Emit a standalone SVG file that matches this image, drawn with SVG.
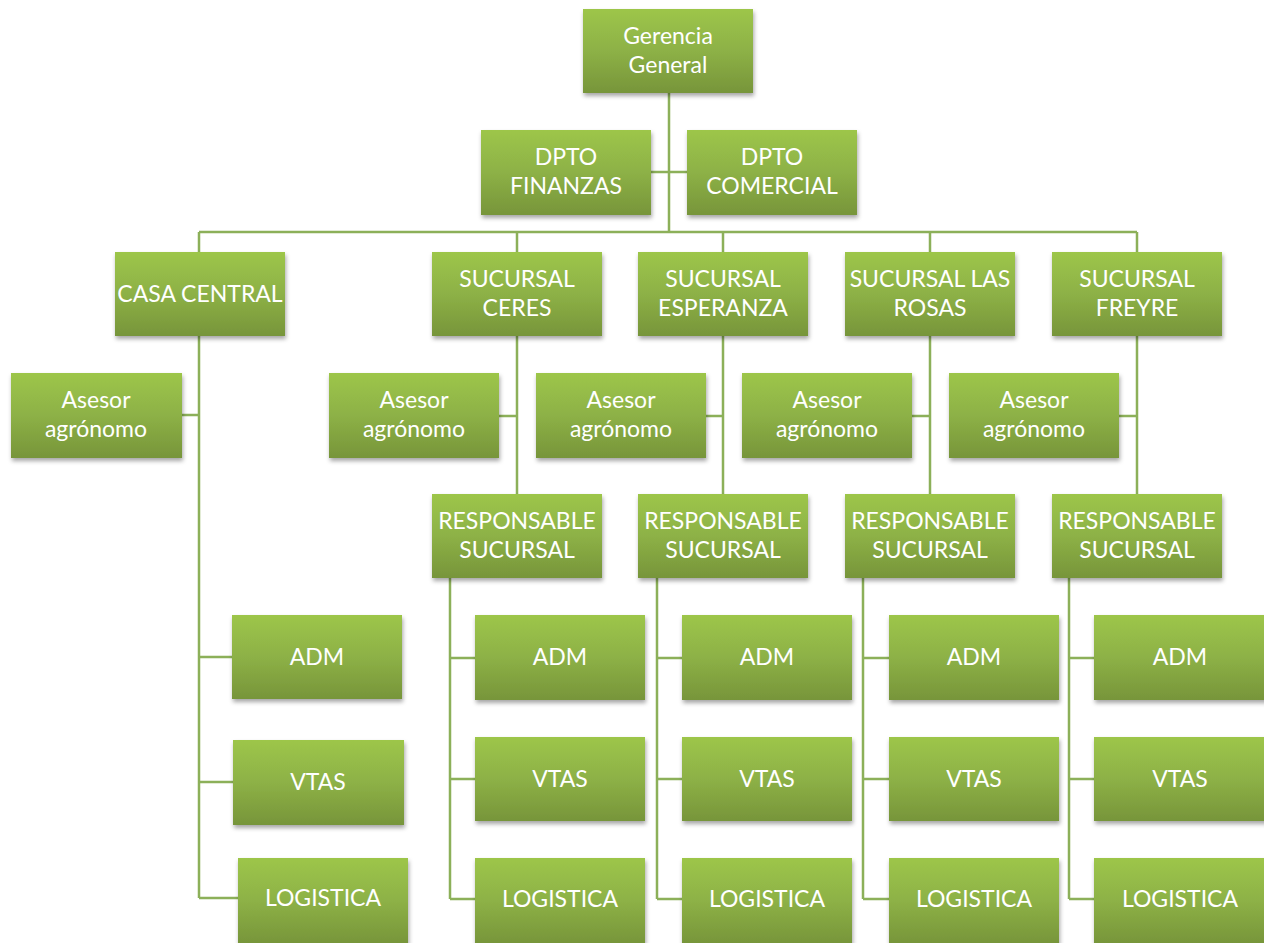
<svg xmlns="http://www.w3.org/2000/svg" width="1264" height="943" viewBox="0 0 1264 943">
<defs>
<linearGradient id="g" x1="0" y1="0" x2="0" y2="1">
<stop offset="0" stop-color="#9dc64a"/>
<stop offset="0.5" stop-color="#8db146"/>
<stop offset="1" stop-color="#77953a"/>
</linearGradient>
<filter id="sh" x="-10%" y="-10%" width="125%" height="135%">
<feDropShadow dx="1" dy="3" stdDeviation="2" flood-color="#000" flood-opacity="0.35"/>
</filter>
</defs>
<style>
.b{fill:url(#g);filter:url(#sh)}
.t{fill:#fff;font-family:Lato,"Open Sans","Liberation Sans",sans-serif;font-size:23px;text-anchor:middle}
.c{stroke:#8cb059;stroke-width:2.5;fill:none}
</style>
<rect width="1264" height="943" fill="#fff"/>
<g id="connectors" class="c">
<path d="M669 93V232M651 172H687M199 232H1137M199 232V252M517 232V252M723 232V252M930 232V252M1137 232V252"/>
<path d="M199 336V898M182 415H199M199 657H232M199 782H233M199 898H238"/>
<path d="M517 336V494M499 416H517M723 336V494M706 416H723M930 336V494M912 416H930M1137 336V494M1119 416H1137"/>
<path d="M450 578V899M450 658H475M450 779H475M450 899H475"/>
<path d="M657 578V899M657 658H682M657 779H682M657 899H682"/>
<path d="M863 578V899M863 658H889M863 779H889M863 899H889"/>
<path d="M1069 578V899M1069 658H1094M1069 779H1094M1069 899H1094"/>
</g>
<g id="gerencia"><rect class="b" x="583" y="9" width="170" height="84"/><text class="t" x="668" y="44">Gerencia</text><text class="t" x="668" y="73">General</text></g>
<g id="finanzas"><rect class="b" x="481" y="130" width="170" height="85"/><text class="t" x="566" y="165">DPTO</text><text class="t" x="566" y="194">FINANZAS</text></g>
<g id="comercial"><rect class="b" x="687" y="130" width="170" height="85"/><text class="t" x="772" y="165">DPTO</text><text class="t" x="772" y="194">COMERCIAL</text></g>
<g id="casa-central"><rect class="b" x="115" y="252" width="170" height="84"/><text class="t" x="200" y="302">CASA CENTRAL</text></g>
<g id="suc-ceres"><rect class="b" x="432" y="252" width="170" height="84"/><text class="t" x="517" y="287">SUCURSAL</text><text class="t" x="517" y="316">CERES</text></g>
<g id="suc-esperanza"><rect class="b" x="638" y="252" width="170" height="84"/><text class="t" x="723" y="287">SUCURSAL</text><text class="t" x="723" y="316">ESPERANZA</text></g>
<g id="suc-rosas"><rect class="b" x="845" y="252" width="170" height="84"/><text class="t" x="930" y="287">SUCURSAL LAS</text><text class="t" x="930" y="316">ROSAS</text></g>
<g id="suc-freyre"><rect class="b" x="1052" y="252" width="170" height="84"/><text class="t" x="1137" y="287">SUCURSAL</text><text class="t" x="1137" y="316">FREYRE</text></g>
<g id="asesor-cc"><rect class="b" x="11" y="373" width="171" height="85"/><text class="t" x="96" y="408">Asesor</text><text class="t" x="96" y="437">agrónomo</text></g>
<g id="asesor-ceres"><rect class="b" x="329" y="373" width="170" height="85"/><text class="t" x="414" y="408">Asesor</text><text class="t" x="414" y="437">agrónomo</text></g>
<g id="asesor-esperanza"><rect class="b" x="536" y="373" width="170" height="85"/><text class="t" x="621" y="408">Asesor</text><text class="t" x="621" y="437">agrónomo</text></g>
<g id="asesor-rosas"><rect class="b" x="742" y="373" width="170" height="85"/><text class="t" x="827" y="408">Asesor</text><text class="t" x="827" y="437">agrónomo</text></g>
<g id="asesor-freyre"><rect class="b" x="949" y="373" width="170" height="85"/><text class="t" x="1034" y="408">Asesor</text><text class="t" x="1034" y="437">agrónomo</text></g>
<g id="resp-ceres"><rect class="b" x="432" y="494" width="170" height="84"/><text class="t" x="517" y="529">RESPONSABLE</text><text class="t" x="517" y="558">SUCURSAL</text></g>
<g id="resp-esperanza"><rect class="b" x="638" y="494" width="170" height="84"/><text class="t" x="723" y="529">RESPONSABLE</text><text class="t" x="723" y="558">SUCURSAL</text></g>
<g id="resp-rosas"><rect class="b" x="845" y="494" width="170" height="84"/><text class="t" x="930" y="529">RESPONSABLE</text><text class="t" x="930" y="558">SUCURSAL</text></g>
<g id="resp-freyre"><rect class="b" x="1052" y="494" width="170" height="84"/><text class="t" x="1137" y="529">RESPONSABLE</text><text class="t" x="1137" y="558">SUCURSAL</text></g>
<g id="adm-cc"><rect class="b" x="232" y="615" width="170" height="84"/><text class="t" x="317" y="665">ADM</text></g>
<g id="vtas-cc"><rect class="b" x="233" y="740" width="171" height="85"/><text class="t" x="318" y="790">VTAS</text></g>
<g id="log-cc"><rect class="b" x="238" y="858" width="170" height="86"/><text class="t" x="323" y="906">LOGISTICA</text></g>
<g id="adm-ceres"><rect class="b" x="475" y="615" width="170" height="85"/><text class="t" x="560" y="665">ADM</text></g>
<g id="vtas-ceres"><rect class="b" x="475" y="737" width="170" height="84"/><text class="t" x="560" y="787">VTAS</text></g>
<g id="log-ceres"><rect class="b" x="475" y="858" width="170" height="86"/><text class="t" x="560" y="907">LOGISTICA</text></g>
<g id="adm-esperanza"><rect class="b" x="682" y="615" width="170" height="85"/><text class="t" x="767" y="665">ADM</text></g>
<g id="vtas-esperanza"><rect class="b" x="682" y="737" width="170" height="84"/><text class="t" x="767" y="787">VTAS</text></g>
<g id="log-esperanza"><rect class="b" x="682" y="858" width="170" height="86"/><text class="t" x="767" y="907">LOGISTICA</text></g>
<g id="adm-rosas"><rect class="b" x="889" y="615" width="170" height="85"/><text class="t" x="974" y="665">ADM</text></g>
<g id="vtas-rosas"><rect class="b" x="889" y="737" width="170" height="84"/><text class="t" x="974" y="787">VTAS</text></g>
<g id="log-rosas"><rect class="b" x="889" y="858" width="170" height="86"/><text class="t" x="974" y="907">LOGISTICA</text></g>
<g id="adm-freyre"><rect class="b" x="1094" y="615" width="175" height="85"/><text class="t" x="1180" y="665">ADM</text></g>
<g id="vtas-freyre"><rect class="b" x="1094" y="737" width="175" height="84"/><text class="t" x="1180" y="787">VTAS</text></g>
<g id="log-freyre"><rect class="b" x="1094" y="858" width="175" height="86"/><text class="t" x="1180" y="907">LOGISTICA</text></g>
</svg>
